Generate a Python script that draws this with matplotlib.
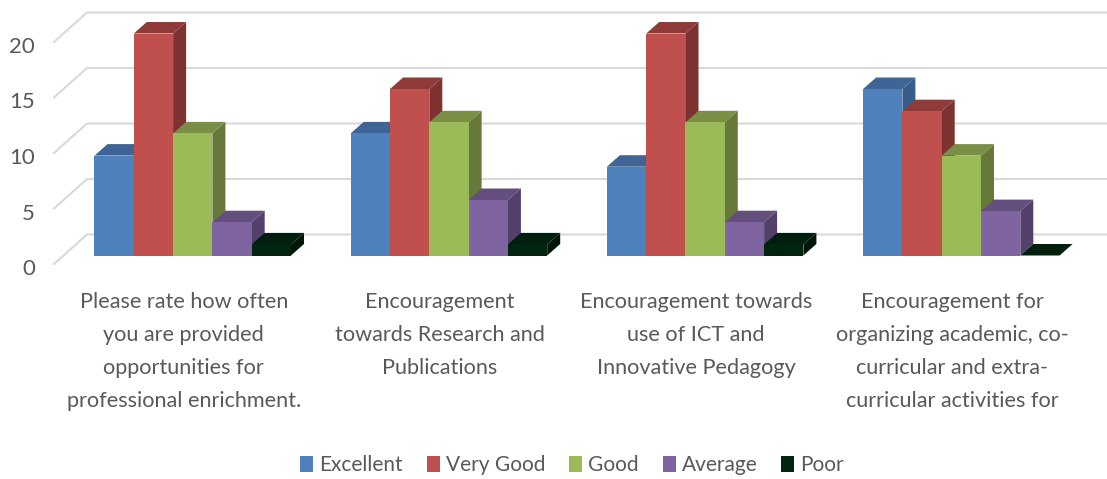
import matplotlib
matplotlib.use("Agg")
import matplotlib.pyplot as plt
from matplotlib.patches import Patch

plt.rcParams['font.family'] = ['Lato', 'DejaVu Sans']

categories = [
    "Please rate how often\nyou are provided\nopportunities for\nprofessional enrichment.",
    "Encouragement\ntowards Research and\nPublications",
    "Encouragement towards\nuse of ICT and\nInnovative Pedagogy",
    "Encouragement for\norganizing academic, co-\ncurricular and extra-\ncurricular activities for",
]
series_names = ["Excellent", "Very Good", "Good", "Average", "Poor"]
excellent = [9, 11, 8, 15]
very_good = [20, 15, 20, 13]
good = [11, 12, 12, 9]
average = [3, 5, 3, 4]
poor = [1, 1, 1, 0]
series = [excellent, very_good, good, average, poor]
y_ticks = [0, 5, 10, 15, 20]

front_colors = ["#4F81BD", "#C0504D", "#9BBB59", "#8064A2", "#00240F"]
side_colors = ["#385D8A", "#7D3230", "#67793A", "#54416B", "#001508"]
top_colors = ["#3E6595", "#8E3B39", "#788F45", "#634E7E", "#001F0E"]

W, H = 1107, 479
GROUP_PX = 256.2    # pixels per category
UNIT_PX = 11.1      # pixels per value unit
X0_PX = 192.75      # centre of first group
Y0_PX = 255.5       # pixel row of value 0

fig = plt.figure(figsize=(W / 100, H / 100), dpi=100)
ax = fig.add_axes([0, 0, 1, 1])
ax.set_xlim(-X0_PX / GROUP_PX, (W - X0_PX) / GROUP_PX)
ax.set_ylim((Y0_PX - H) / UNIT_PX, Y0_PX / UNIT_PX)
ax.axis('off')

bar_w = 39.3 / GROUP_PX
dx = 13 / GROUP_PX
dy = 11.5 / UNIT_PX

# back wall and its slanted ends
wall_left = (87 - X0_PX) / GROUP_PX
floor_left = (54 - X0_PX) / GROUP_PX
wall_up = (Y0_PX - 234.5) / UNIT_PX
floor_down = (264 - Y0_PX) / UNIT_PX
right = (W - X0_PX) / GROUP_PX
for t in y_ticks:
    ax.plot([floor_left, wall_left, right], [t - floor_down, t + wall_up, t + wall_up],
            color="#D9D9D9", lw=1.5, zorder=1, solid_joinstyle='miter')
    ax.text((35 - X0_PX) / GROUP_PX, t - floor_down - 5 / UNIT_PX, str(t), ha='right', va='center',
            fontsize=16, color="#595959")

# bars, left to right so later ones cover the sides of earlier ones
z = 2
for g in range(len(categories)):
    for s in range(len(series)):
        v = series[s][g]
        x = g + (s - 2.5) * bar_w
        ax.fill([x + bar_w, x + bar_w + dx, x + bar_w + dx, x + bar_w],
                [0, dy, v + dy, v], color=side_colors[s], lw=0, zorder=z)
        ax.fill([x, x + dx, x + bar_w + dx, x + bar_w],
                [v, v + dy, v + dy, v], color=top_colors[s], lw=0, zorder=z)
        ax.bar(x, v, bar_w, align='edge', color=front_colors[s], lw=0, zorder=z + 0.5)
        z += 1

for g, label in enumerate(categories):
    ax.text(g - 9 / GROUP_PX, (Y0_PX - 292.5) / UNIT_PX, label, ha='center', va='top',
            fontsize=15.6, color="#595959", linespacing=1.8)

handles = [Patch(color=c, lw=0) for c in front_colors]
fig.legend(handles, series_names, ncol=5, loc='center', bbox_to_anchor=(572 / W, 1 - 465 / H),
           frameon=False, fontsize=15, labelcolor="#595959", handlelength=0.62, handleheight=0.82,
           handletextpad=0.29, columnspacing=1.15)

fig.savefig("out.png", dpi=100)
plt.close(fig)
